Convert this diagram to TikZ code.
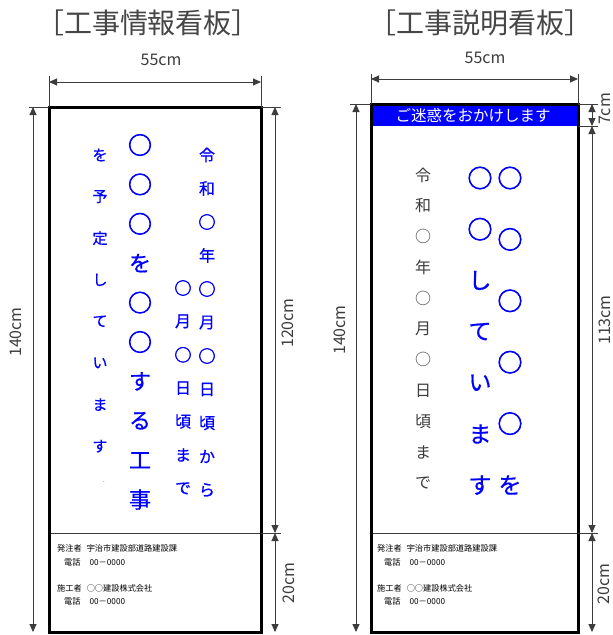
\documentclass[tikz,border=0pt]{standalone}
\usepackage{fontspec}
\setmainfont{Noto Sans CJK JP}
\newfontfamily\circfont{Noto Sans CJK JP}[FakeBold=2.5]
\newfontfamily\bluefont{Noto Sans CJK JP}[FakeBold=0.7]
\usetikzlibrary{arrows.meta}
\definecolor{signblue}{RGB}{0,0,255}
\definecolor{dimgray}{RGB}{60,60,60}
\definecolor{titlegray}{RGB}{70,70,70}
\definecolor{colgray}{RGB}{60,60,60}
\newcommand\bcirc[1]{{\circfont\fontsize{#1}{#1}\selectfont ○}}
\tikzset{
  board/.style={draw=black, line width=3pt},
  divider/.style={draw=dimgray, line width=0.8pt},
  extline/.style={draw=dimgray, line width=0.8pt},
  dimline/.style={draw=dimgray, line width=1pt, {Triangle[length=8pt,width=7pt]}-{Triangle[length=8pt,width=7pt]}},
  title/.style={inner sep=0pt, text=titlegray, font=\fontsize{28}{28}\selectfont},
  dimtext/.style={inner sep=0pt, text=dimgray, font=\fontsize{16}{16}\selectfont},
  smallblue/.style={inner sep=0pt, text=signblue, font=\bluefont\fontsize{15}{15}\selectfont},
  bigblue/.style={inner sep=0pt, text=signblue, font=\bluefont\fontsize{22}{22}\selectfont},
  midblue/.style={inner sep=0pt, text=signblue, font=\bluefont\fontsize{16}{16}\selectfont},
  graychar/.style={inner sep=0pt, text=colgray, font=\fontsize{16}{16}\selectfont},
  bigblueR/.style={inner sep=0pt, text=signblue, font=\bluefont\fontsize{23}{23}\selectfont},
  info/.style={inner sep=0pt, anchor=west, text=black, font=\fontsize{8.2}{8.2}\selectfont},
  bartext/.style={inner sep=0pt, text=white, font=\fontsize{15.5}{15.5}\selectfont},
}
\begin{document}
\begin{tikzpicture}[x=1pt,y=-1pt]
\useasboundingbox[fill=white] (0,0) rectangle (613,635);

% ================= LEFT BOARD =================
\coordinate (LTL) at (49,107);
\coordinate (LBR) at (261,632);
\coordinate (LDL) at (49,533);
\coordinate (LDR) at (261,533);
\draw[divider] (LDL) -- (LDR);
\draw[board] (LTL) rectangle (LBR);

\node[title] (ltitle) at (148,23) {［工事情報看板］};
\node[dimtext] (lw) at (161,60) {55cm};

% width dimension
\coordinate (lwe1) at (49,76);
\coordinate (lwe2) at (261,76);
\coordinate (lwa1) at (49,82);
\coordinate (lwa2) at (261,82);
\coordinate (LTR) at (261,107);
\draw[extline] (lwe1) -- (LTL);
\draw[extline] (lwe2) -- (LTR);
\draw[dimline] (lwa1) -- (lwa2);

% left height dimension
\coordinate (lhe1) at (29,107);
\coordinate (lha1) at (33,107);
\coordinate (lha2) at (33,632);
\draw[extline] (lhe1) -- (LTL);
\draw[dimline] (lha1) -- (lha2);
\node[dimtext, rotate=90] (lh) at (16,332) {140cm};

% right dimensions
\coordinate (lre1) at (281,107);
\coordinate (lre2) at (281,533);
\coordinate (lra1) at (275,107);
\coordinate (lra2) at (275,533);
\coordinate (lra3) at (275,632);
\draw[extline] (LTR) -- (lre1);
\draw[extline] (LDR) -- (lre2);
\draw[dimline] (lra1) -- (lra2);
\draw[dimline] (lra2) -- (lra3);
\node[dimtext, rotate=90] (l120) at (288,323) {120cm};
\node[dimtext, rotate=90] (l20) at (289,583) {20cm};

% columns
\foreach \c [count=\i from 0] in {を,予,定,し,て,い,ま,す}
  \node[smallblue] (la\i) at (100,{155+41.6*\i}) {\c};
\node[smallblue, font=\fontsize{6}{6}\selectfont] (ladot) at (104,482) {.};
\foreach \c [count=\i from 0] in {\bcirc{24},\bcirc{24},\bcirc{24},を,\bcirc{24},\bcirc{24},す,る,工,事}
  \node[bigblue] (lb\i) at (140,{145+39.4*\i}) {\c};
\foreach \c [count=\i from 0] in {\bcirc{17},月,\bcirc{17},日,頃,ま,で}
  \node[midblue] (lc\i) at (183,{288+33.4*\i}) {\c};
\foreach \c [count=\i from 0] in {令,和,\bcirc{17},年,\bcirc{17},月,\bcirc{17},日,頃,か,ら}
  \node[midblue] (ld\i) at (207,{155+33.5*\i}) {\c};

% info
\node[info] (lin1) at (57,548) {発注者\hspace{5pt}宇治市建設部道路建設課};
\node[info] (lin2) at (64,562) {電話\hspace{9pt}00－0000};
\node[info] (lin3) at (57,588) {施工者\hspace{5pt}○○建設株式会社};
\node[info] (lin4) at (64,601) {電話\hspace{9pt}00－0000};

% ================= RIGHT BOARD =================
\coordinate (RTL) at (371,104);
\coordinate (RTR) at (578,104);
\coordinate (RBR) at (578,632);
\coordinate (RBRb) at (578,126);
\coordinate (RDL) at (371,533);
\coordinate (RDR) at (578,533);
\fill[signblue] (RTL) rectangle (RBRb);
\node[bartext] (rbar) at (473,116) {ご迷惑をおかけします};
\draw[divider] (RDL) -- (RDR);
\draw[board] (RTL) rectangle (RBR);

\node[title] (rtitle) at (480,23) {［工事説明看板］};
\node[dimtext] (rw) at (485,58) {55cm};

% width dimension
\coordinate (rwe1) at (371,74);
\coordinate (rwe2) at (578,74);
\coordinate (rwa1) at (371,79);
\coordinate (rwa2) at (578,79);
\draw[extline] (rwe1) -- (RTL);
\draw[extline] (rwe2) -- (RTR);
\draw[dimline] (rwa1) -- (rwa2);

% left height
\coordinate (rhe1) at (350,104);
\coordinate (rha1) at (356,104);
\coordinate (rha2) at (356,632);
\draw[extline] (rhe1) -- (RTL);
\draw[dimline] (rha1) -- (rha2);
\node[dimtext, rotate=90] (rh) at (340,330) {140cm};

% right dims
\coordinate (rre0) at (598,104);
\coordinate (rre1) at (598,126);
\coordinate (rre2) at (598,533);
\coordinate (rra0) at (592,104);
\coordinate (rra1) at (592,126);
\coordinate (rra2) at (592,533);
\coordinate (rra3) at (592,632);
\draw[extline] (RTR) -- (rre0);
\draw[extline] (RBRb) -- (rre1);
\draw[extline] (RDR) -- (rre2);
\draw[dimline] (rra0) -- (rra1);
\draw[dimline] (rra1) -- (rra2);
\draw[dimline] (rra2) -- (rra3);
\node[dimtext, rotate=90] (r7) at (605,109) {7cm};
\node[dimtext, rotate=90] (r113) at (605,320) {113cm};
\node[dimtext, rotate=90] (r20) at (604,584) {20cm};

% columns
\foreach \c [count=\i from 0] in {令,和,○,年,○,月,○,日,頃,ま,で}
  \node[graychar] (ra\i) at (423,{175+30.8*\i}) {\c};
\foreach \c [count=\i from 0] in {\bcirc{25},\bcirc{25},し,て,い,ま,す}
  \node[bigblueR] (rb\i) at (480,{178+51.2*\i}) {\c};
\foreach \c [count=\i from 0] in {\bcirc{25},\bcirc{25},\bcirc{25},\bcirc{25},\bcirc{25},を}
  \node[bigblueR] (rc\i) at (510,{178+61.4*\i}) {\c};

% info
\node[info] (rin1) at (377,548) {発注者\hspace{5pt}宇治市建設部道路建設課};
\node[info] (rin2) at (384,562) {電話\hspace{9pt}00－0000};
\node[info] (rin3) at (377,588) {施工者\hspace{5pt}○○建設株式会社};
\node[info] (rin4) at (384,601) {電話\hspace{9pt}00－0000};
\end{tikzpicture}
\end{document}
